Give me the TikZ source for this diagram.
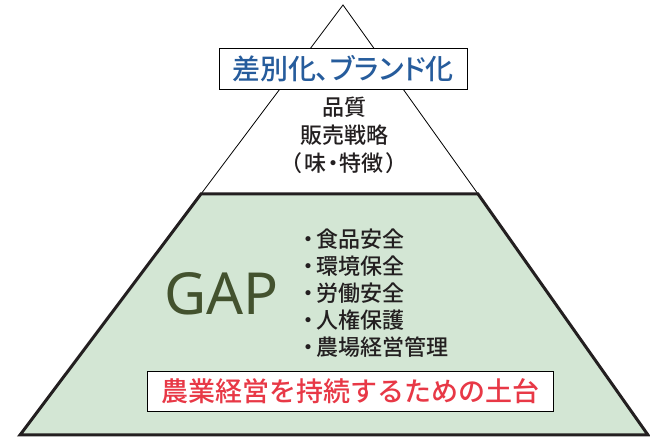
\documentclass[tikz,border=0pt]{standalone}
\usepackage{fontspec}
\newfontfamily\jp{Noto Sans CJK JP Medium}
\newfontfamily\jpp[RawFeature=+palt]{Noto Sans CJK JP Medium}
\newfontfamily\latin{Noto Sans}
\definecolor{gapfill}{RGB}{211,230,212}
\definecolor{gapline}{RGB}{35,31,32}
\definecolor{brandblue}{RGB}{38,92,156}
\definecolor{basered}{RGB}{232,56,70}
\definecolor{gapgreen}{RGB}{67,82,46}
\definecolor{txt}{RGB}{35,31,32}
\begin{document}
\begin{tikzpicture}[x=1pt,y=1pt,
  labelbox/.style={draw=black,line width=0.8pt,fill=white,inner sep=0pt},
  bodytext/.style={text=txt,align=center}]
\useasboundingbox (0,0) rectangle (650,441);
\coordinate (apex) at (343,436);
\coordinate (tl) at (201,247);
\coordinate (tr) at (478,247);
\coordinate (bl) at (20,6);
\coordinate (br) at (648,6);
% upper triangle
\draw[line width=0.8pt,black] (tl) -- (apex) -- (tr);
% trapezoid
\draw[line width=3pt,draw=gapline,fill=gapfill,line join=miter] (tl) -- (tr) -- (br) -- (bl) -- cycle;
% brand box
\node[labelbox,minimum width=248pt,minimum height=41pt,text=brandblue,font=\jpp\fontsize{28}{30}\selectfont] (brand) at (343,372.5) {差別化、ブランド化};
% quality
\node[bodytext,font=\jp\fontsize{22}{28}\selectfont] (quality) at (344,306) {品質\\販売戦略\\{\jpp（\kern2.5pt味\kern1pt・\kern1pt特徴\kern2.5pt）}};
% GAP
\node[text=gapgreen,font=\latin\fontsize{58}{60}\selectfont,inner sep=0pt] (gap) at (221.5,147) {GAP};
% list
\node[text=txt,align=left,anchor=west,inner sep=0pt,font=\jp\fontsize{22}{27}\selectfont] (list) at (297,147.5) {・\kern-3pt食品安全\\・\kern-3pt環境保全\\・\kern-3pt労働安全\\・\kern-3pt人権保護\\・\kern-3pt農場経営管理};
% base box
\node[labelbox,minimum width=406pt,minimum height=40pt,text=basered,font=\jp\fontsize{27}{30}\selectfont] (base) at (350,50) {農業経営を持続するための土台};
\end{tikzpicture}
\end{document}
